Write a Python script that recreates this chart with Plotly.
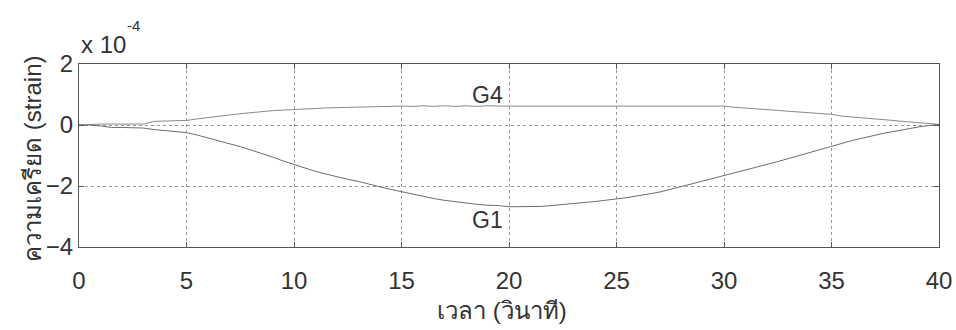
import plotly.graph_objects as go

# time (s)
t = [i * 0.5 for i in range(81)]

# strain values in units of 1e-4
g1 = [0, 0, -0.03, -0.08, -0.08, -0.08, -0.1, -0.15, -0.18, -0.2,
      -0.25, -0.33, -0.42, -0.51, -0.61, -0.71, -0.82, -0.93, -1.05, -1.18,
      -1.3, -1.41, -1.52, -1.61, -1.7, -1.78, -1.85, -1.95, -2.03, -2.11,
      -2.19, -2.27, -2.34, -2.41, -2.47, -2.52, -2.56, -2.6, -2.63, -2.64,
      -2.68, -2.68, -2.67, -2.67, -2.64, -2.6, -2.58, -2.54, -2.51, -2.47,
      -2.44, -2.38, -2.32, -2.27, -2.2, -2.11, -2.03, -1.93, -1.84, -1.75,
      -1.67, -1.57, -1.48, -1.39, -1.3, -1.2, -1.1, -1.0, -0.9, -0.8,
      -0.69, -0.6, -0.5, -0.42, -0.33, -0.26, -0.2, -0.13, -0.07, -0.02,
      0.02]

g4 = [0, 0.02, 0.03, 0.03, 0.03, 0.03, 0.03, 0.12, 0.13, 0.13,
      0.15, 0.2, 0.25, 0.3, 0.33, 0.37, 0.41, 0.44, 0.47, 0.49,
      0.5, 0.52, 0.54, 0.56, 0.57, 0.58, 0.6, 0.61, 0.61, 0.62,
      0.62, 0.61, 0.63, 0.61, 0.63, 0.61, 0.63, 0.61, 0.63, 0.62,
      0.62, 0.62, 0.62, 0.62, 0.63, 0.62, 0.63, 0.62, 0.63, 0.62,
      0.63, 0.62, 0.62, 0.62, 0.62, 0.62, 0.62, 0.62, 0.62, 0.62,
      0.62, 0.58, 0.56, 0.53, 0.5, 0.48, 0.45, 0.42, 0.4, 0.37,
      0.35, 0.29, 0.26, 0.23, 0.21, 0.18, 0.15, 0.11, 0.08, 0.05,
      0.02]

x_ticks = [0, 5, 10, 15, 20, 25, 30, 35, 40]
y_ticks = [-4, -2, 0, 2]

labels = [("G4", 19.0, 0.98), ("G1", 19.0, -3.11)]
x_title = "เวลา (วินาที)"
y_title = "ความเครียด (strain)"

font_family = "Liberation Sans, Arial, Noto Sans, sans-serif"
text_color = "#333333"

fig = go.Figure()
fig.add_trace(go.Scatter(x=t, y=g4, mode="lines", name="G4",
                         line=dict(color="#8a8a8a", width=1)))
fig.add_trace(go.Scatter(x=t, y=g1, mode="lines", name="G1",
                         line=dict(color="#6e6e6e", width=1)))

for txt, lx, ly in labels:
    fig.add_annotation(x=lx, y=ly, text=txt, showarrow=False,
                       font=dict(size=23, color=text_color, family=font_family))

fig.add_annotation(xref="paper", yref="paper", x=0.0, y=1.104, xanchor="left",
                   yanchor="middle", text="x 10", showarrow=False,
                   font=dict(size=24, color=text_color, family=font_family))
fig.add_annotation(xref="paper", yref="paper", x=0.0535, y=1.21, xanchor="left",
                   yanchor="middle", text="-4", showarrow=False,
                   font=dict(size=15, color=text_color, family=font_family))

# axis titles
fig.add_annotation(xref="paper", yref="paper", x=0.492, y=-0.345, xanchor="center",
                   yanchor="middle", text=x_title, showarrow=False,
                   font=dict(size=24, color=text_color, family=font_family))
fig.add_annotation(xref="paper", yref="paper", x=-0.055, y=0.48, xanchor="center",
                   yanchor="middle", text=y_title, showarrow=False, textangle=-90,
                   font=dict(size=24, color=text_color, family=font_family))

axis_common = dict(
    showline=True, linecolor="#555555", linewidth=1, mirror="ticks",
    ticks="inside", ticklen=5, tickcolor="#555555",
    showgrid=True, gridcolor="#9a9a9a", gridwidth=1, griddash="dot",
    zeroline=False, automargin=False,
    tickfont=dict(size=24, color=text_color, family=font_family),
)

fig.update_xaxes(range=[0, 40], tickvals=x_ticks, ticklabelstandoff=12,
                 **axis_common)
fig.update_yaxes(range=[-4, 2], tickvals=y_ticks, **axis_common)

fig.update_layout(
    width=956, height=330,
    margin=dict(l=79, r=17, t=64, b=83),
    paper_bgcolor="white", plot_bgcolor="white",
    showlegend=False,
)

fig.write_html("out.html")
